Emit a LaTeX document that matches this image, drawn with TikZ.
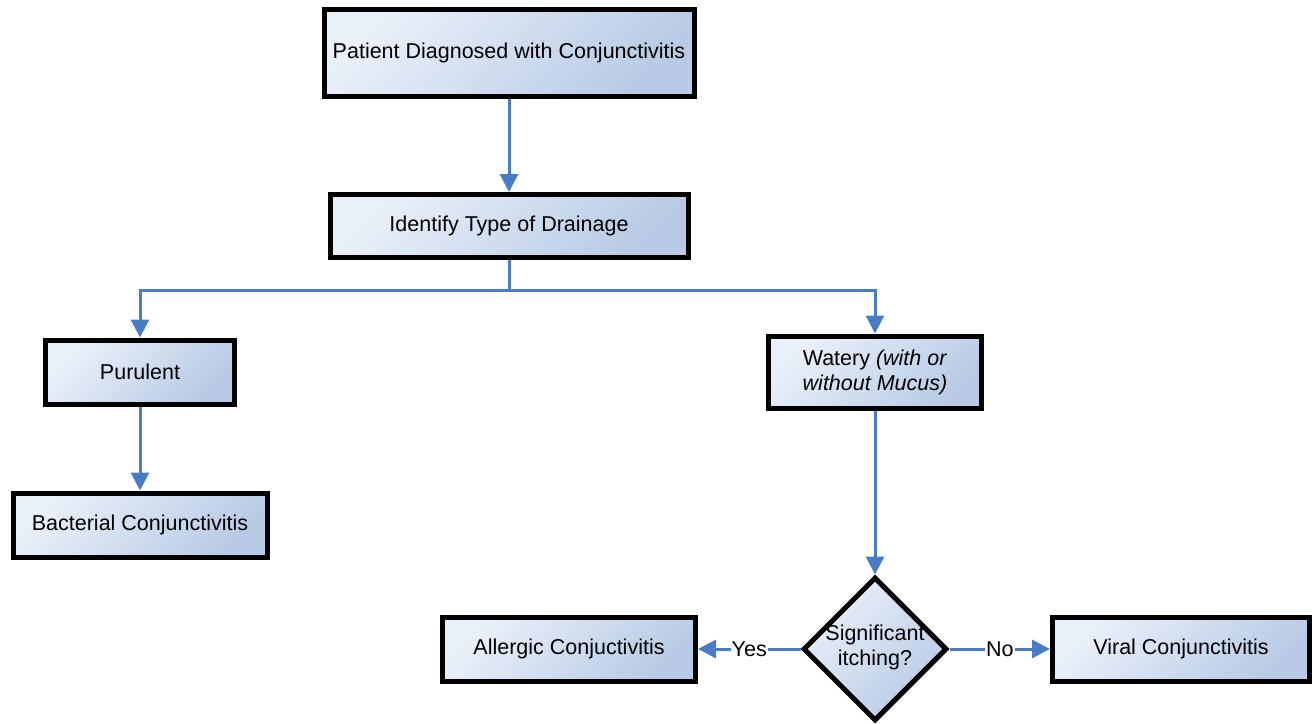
\documentclass[tikz,border=0pt]{standalone}
\usepackage{fontspec}
\setmainfont{Liberation Sans}
\usetikzlibrary{arrows.meta,shapes.geometric}
\definecolor{boxlight}{HTML}{EAF0F9}
\definecolor{boxdark}{HTML}{B8CAE5}
\definecolor{arrowblue}{HTML}{4A7CC6}
\tikzset{
  stepbox/.style={draw=black, line width=5pt, top color=boxlight, bottom color=boxdark, shading angle=45,
    inner sep=0pt, align=center, font=\fontsize{21.5}{25}\selectfont},
  decision/.style={diamond, draw=black, line width=5pt, top color=boxlight, bottom color=boxdark, shading angle=45,
    minimum width=144pt, minimum height=144pt, inner sep=0pt, aspect=1},
  conn/.style={draw=arrowblue, line width=3pt, -{Triangle[length=18pt,width=18pt]}},
  lbl/.style={fill=white, inner sep=1pt, font=\fontsize{21.5}{25}\selectfont}
}
\begin{document}
\begin{tikzpicture}[x=1pt,y=-1pt]
\useasboundingbox (0,0) rectangle (1316,723);
\node[stepbox, minimum width=370pt, minimum height=87pt] (p) at (509,53) {Patient Diagnosed with Conjunctivitis};
\node[stepbox, minimum width=358pt, minimum height=63pt] (i) at (509,226) {Identify Type of Drainage};
\node[stepbox, minimum width=189pt, minimum height=64pt] (pu) at (140,372) {Purulent};
\node[stepbox, minimum width=254pt, minimum height=64pt] (b) at (140,525) {Bacterial Conjunctivitis};
\node[stepbox, minimum width=213pt, minimum height=72pt] (w) at (875,372) {Watery \textit{(with or}\\\textit{without Mucus)}};
\node[decision] (d) at (875,649) {};
\node[align=center, font=\fontsize{21.5}{25}\selectfont] (dt) at (875,647) {Significant\\itching?};
\node[stepbox, minimum width=253pt, minimum height=64pt] (a) at (569,649) {Allergic Conjuctivitis};
\node[stepbox, minimum width=257pt, minimum height=64pt] (v) at (1181,649) {Viral Conjunctivitis};
\coordinate (j) at (509,290);
\draw[conn] (p.south) -- (i.north);
\draw[conn] (i.south) -- (j) -| (pu.north);
\draw[conn] (j) -| (w.north);
\draw[conn] (pu.south) -- (b.north);
\draw[conn] (w.south) -- (d.north);
\draw[conn] (d.west) -- node[lbl, pos=0.5] {Yes} (a.east);
\draw[conn] (d.east) -- node[lbl, pos=0.5] {No} (v.west);
\end{tikzpicture}
\end{document}
